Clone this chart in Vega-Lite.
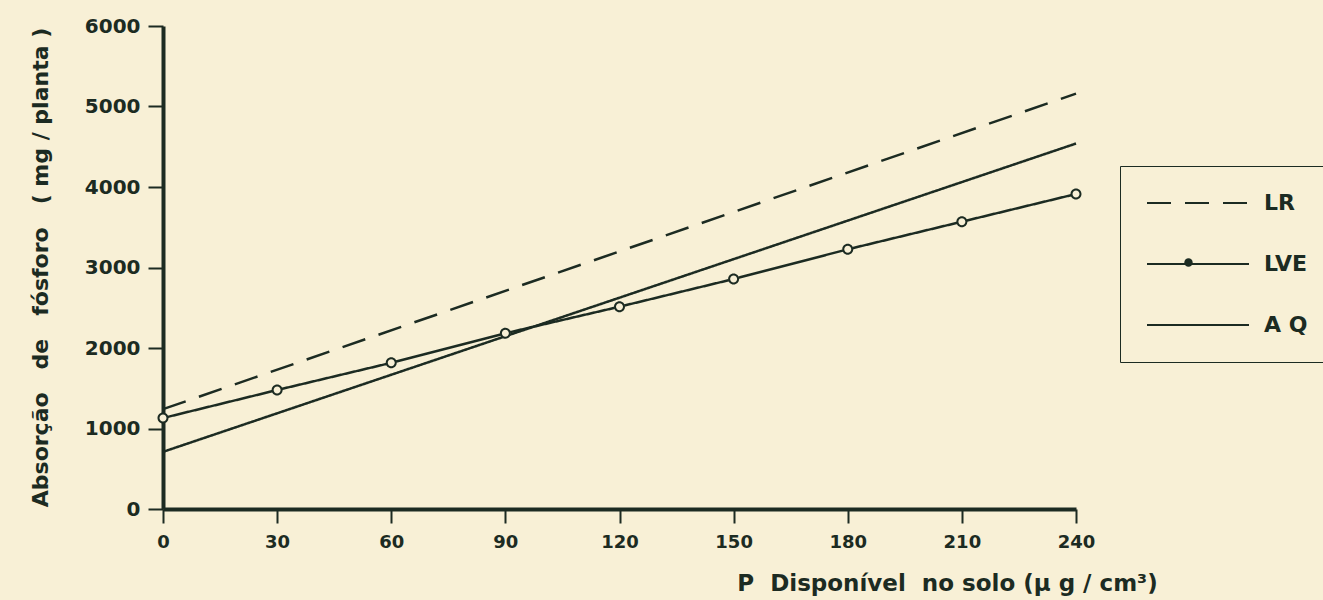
{
  "$schema": "https://vega.github.io/schema/vega-lite/v6.json",
  "autosize": "none",
  "width": 913,
  "height": 483,
  "padding": {"left": 163, "top": 26, "right": 247, "bottom": 91},
  "background": "#f8f0d6",
  "data": {
    "values": [
      {"serie": "LR", "x": 0, "y": 1240},
      {"serie": "LR", "x": 240, "y": 5160},
      {"serie": "LVE", "x": 0, "y": 1130},
      {"serie": "LVE", "x": 30, "y": 1478},
      {"serie": "LVE", "x": 60, "y": 1816},
      {"serie": "LVE", "x": 90, "y": 2183},
      {"serie": "LVE", "x": 120, "y": 2513},
      {"serie": "LVE", "x": 150, "y": 2857},
      {"serie": "LVE", "x": 180, "y": 3226},
      {"serie": "LVE", "x": 210, "y": 3569},
      {"serie": "LVE", "x": 240, "y": 3913},
      {"serie": "AQ", "x": 0, "y": 710},
      {"serie": "AQ", "x": 240, "y": 4540}
    ]
  },
  "encoding": {
    "x": {
      "field": "x", "type": "quantitative",
      "scale": {"domain": [0, 240], "nice": false, "zero": false},
      "axis": {
        "values": [0, 30, 60, 90, 120, 150, 180, 210, 240],
        "format": "d",
        "grid": false,
        "labelFlush": false,
        "domainColor": "#1c2b22", "domainWidth": 4,
        "tickColor": "#1c2b22", "tickSize": 14, "tickWidth": 2,
        "labelFont": "DejaVu Sans", "labelFontWeight": "bold", "labelFontSize": 18,
        "labelColor": "#1c2b22", "labelPadding": 10,
        "title": "P\u00a0 Disponível\u00a0 no solo (μ g / cm³)",
        "titleFont": "DejaVu Sans", "titleFontSize": 23, "titleFontWeight": "bold",
        "titleColor": "#1c2b22",
        "titleX": 784, "titleY": 74, "titleAlign": "center", "titleBaseline": "middle"
      }
    },
    "y": {
      "field": "y", "type": "quantitative",
      "scale": {"domain": [0, 6000], "nice": false},
      "axis": {
        "values": [0, 1000, 2000, 3000, 4000, 5000, 6000],
        "format": "d",
        "grid": false,
        "labelFlush": false,
        "domainColor": "#1c2b22", "domainWidth": 4,
        "tickColor": "#1c2b22", "tickSize": 15, "tickWidth": 2,
        "labelFont": "DejaVu Sans", "labelFontWeight": "bold", "labelFontSize": 20,
        "labelColor": "#1c2b22", "labelPadding": 8,
        "title": "Absorção\u00a0\u00a0\u00a0de\u00a0\u00a0\u00a0fósforo\u00a0\u00a0\u00a0(\u00a0mg\u00a0/\u00a0planta\u00a0)",
        "titleFont": "DejaVu Sans", "titleFontSize": 22, "titleFontWeight": "bold",
        "titleColor": "#1c2b22",
        "titleX": -123, "titleY": 241, "titleAngle": 270,
        "titleAlign": "center", "titleBaseline": "middle"
      }
    }
  },
  "layer": [
    {
      "mark": {"type": "line", "stroke": "#1c2b22", "strokeWidth": 2.5},
      "encoding": {
        "strokeDash": {
          "field": "serie", "type": "nominal",
          "scale": {"domain": ["LR", "LVE", "AQ"], "range": [[24, 14], [1, 0], [1, 0]]},
          "legend": {
            "orient": "none",
            "legendX": 957,
            "legendY": 140,
            "zindex": 0,
            "title": null,
            "padding": 26,
            "strokeColor": "#1c2b22",
            "symbolSize": 400,
            "symbolType": "M-1,0H9.2",
            "symbolStrokeColor": "#1c2b22",
            "symbolStrokeWidth": 2,
            "rowPadding": 39,
            "labelOffset": 96,
            "labelFont": "DejaVu Sans", "labelFontWeight": "bold", "labelFontSize": 22,
            "labelColor": "#1c2b22",
            "labelExpr": "datum.label == 'AQ' ? 'A Q' : datum.label"
          }
        }
      }
    },
    {
      "transform": [{"filter": "datum.serie == 'LVE'"}],
      "mark": {"type": "point", "filled": true, "fill": "#f8f0d6", "strokeWidth": 0, "size": 100, "opacity": 1},
      "encoding": {
        "shape": {
          "field": "serie", "type": "nominal",
          "scale": {"domain": ["LVE"], "range": ["circle"]},
          "legend": {
            "orient": "none",
            "legendX": 1021,
            "legendY": 232,
            "zindex": 1,
            "title": null,
            "padding": 0,
            "symbolSize": 70,
            "symbolOpacity": 1,
            "labelExpr": "''",
            "labelFontSize": 1
          }
        }
      }
    },
    {
      "transform": [{"filter": "datum.serie == 'LVE'"}],
      "mark": {"type": "point", "filled": true, "shape": "M1.1,0A1.1,1.1 0 1 0 -1.1,0A1.1,1.1 0 1 0 1.1,0Z M0.7,0A0.7,0.7 0 1 1 -0.7,0A0.7,0.7 0 1 1 0.7,0Z", "strokeWidth": 0, "size": 100, "opacity": 1},
      "encoding": {
        "color": {
          "field": "serie", "type": "nominal",
          "scale": {"domain": ["LVE"], "range": ["#1c2b22"]},
          "legend": {
            "orient": "none",
            "legendX": 1020,
            "legendY": 231,
            "zindex": 2,
            "title": null,
            "padding": 0,
            "symbolSize": 100,
            "symbolType": "M1.1,0A1.1,1.1 0 1 0 -1.1,0A1.1,1.1 0 1 0 1.1,0Z M0.7,0A0.7,0.7 0 1 1 -0.7,0A0.7,0.7 0 1 1 0.7,0Z",
            "symbolStrokeWidth": 0,
            "symbolOpacity": 1,
            "labelExpr": "''",
            "labelFontSize": 1
          }
        }
      }
    }
  ],
  "config": {"view": {"stroke": null}}
}
